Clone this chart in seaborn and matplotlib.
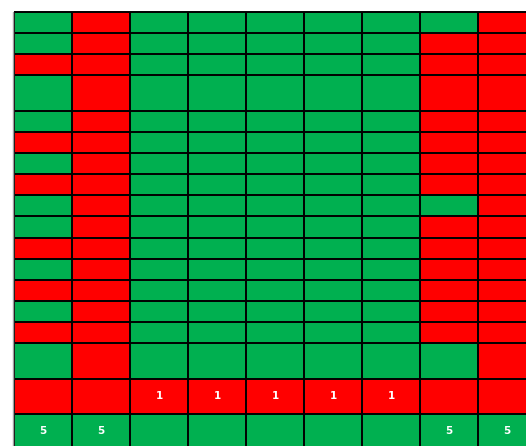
import numpy as np
import seaborn as sns
import matplotlib.pyplot as plt
from matplotlib.colors import ListedColormap

# cell status per row, G = green (ok), R = red
rows = [
    "GRGGGGGGR",
    "GRGGGGGRR",
    "RRGGGGGRR",
    "GRGGGGGRR",
    "GRGGGGGRR",
    "RRGGGGGRR",
    "GRGGGGGRR",
    "RRGGGGGRR",
    "GRGGGGGGR",
    "GRGGGGGRR",
    "RRGGGGGRR",
    "GRGGGGGRR",
    "RRGGGGGRR",
    "GRGGGGGRR",
    "RRGGGGGRR",
    "GRGGGGGGR",
    "RRRRRRRRR",
    "GGGGGGGGG",
]
# cell labels: (row, col, text)
label_rows = [16, 16, 16, 16, 16, 17, 17, 17, 17]
label_cols = [2, 3, 4, 5, 6, 0, 1, 7, 8]
label_text = ["1", "1", "1", "1", "1", "5", "5", "5", "5"]

# row heights in units (normal rows vs tall rows)
row_heights = [3, 3, 3, 5, 3, 3, 3, 3, 3, 3, 3, 3, 3, 3, 3, 5, 5, 5]

grid = np.array([[1 if c == "G" else 0 for c in r] for r in rows])
expanded = np.repeat(grid, row_heights, axis=0)
edges = np.concatenate([[0], np.cumsum(row_heights)])
ncols = grid.shape[1]

sns.set_style("white")
fig = plt.figure(figsize=(5.26, 4.46), dpi=100)
ax = fig.add_axes([14 / 526, -3 / 446, 522 / 526, 437 / 446])

sns.heatmap(expanded, cmap=ListedColormap(["#FF0000", "#00B050"]), vmin=0, vmax=1,
            cbar=False, xticklabels=False, yticklabels=False, linewidths=0, ax=ax)

# cell borders
ax.hlines(edges, 0, ncols, color="black", lw=1.4, clip_on=False)
ax.vlines(np.arange(ncols + 1), 0, edges[-1], color="black", lw=1.4, clip_on=False)

for r, c, t in zip(label_rows, label_cols, label_text):
    ax.text(c + 0.5, (edges[r] + edges[r + 1]) / 2, t, color="white",
            fontsize=7.5, fontweight="bold", ha="center", va="center")

for s in ax.spines.values():
    s.set_visible(False)

fig.add_artist(plt.Line2D([13 / 526, 13 / 526], [0, 1 - 12 / 446], color="#A0A0A0", lw=1))

fig.savefig("out.png", dpi=100)
